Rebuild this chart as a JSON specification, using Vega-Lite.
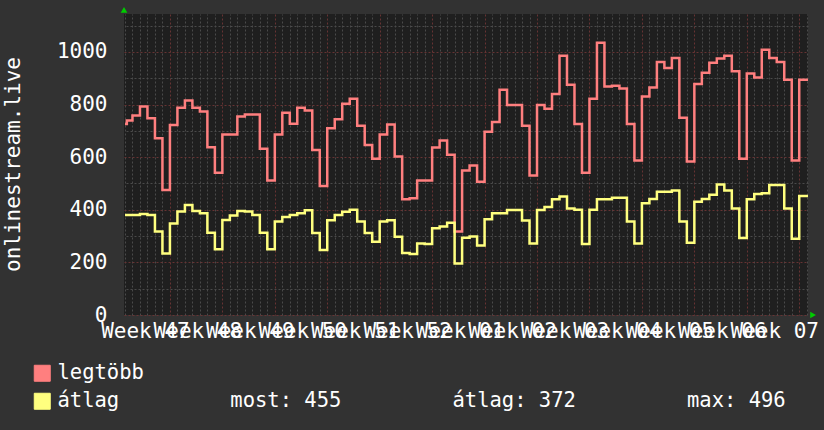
{
  "$schema": "https://vega.github.io/schema/vega-lite/v6.json",
  "width": 684,
  "height": 301,
  "autosize": "none",
  "padding": {"left": 124, "top": 14, "right": 16, "bottom": 115},
  "background": "#323232",
  "config": {
    "view": {"fill": "#1f1f1f", "stroke": null},
    "font": "DejaVu Sans Mono",
    "axis": {"labelFont": "DejaVu Sans Mono", "titleFont": "DejaVu Sans Mono", "labelColor": "#ffffff", "titleColor": "#ffffff", "labelFontSize": 21, "titleFontSize": 21, "titleFontWeight": "normal", "domain": false, "ticks": false, "tickSize": 0, "gridDash": [2, 2], "gridWidth": 1, "labelOverlap": false, "labelFlush": false, "labelBound": false},
    "legend": {"labelFont": "DejaVu Sans Mono", "labelFontSize": 20.5, "labelColor": "#ffffff"}
  },
  "data": {"values": [
    {"d":0,"s":"legtöbb","v":726},{"d":0.25,"s":"legtöbb","v":739},{"d":1,"s":"legtöbb","v":758},{"d":2,"s":"legtöbb","v":792},{"d":3,"s":"legtöbb","v":748},{"d":4,"s":"legtöbb","v":672},{"d":5,"s":"legtöbb","v":475},{"d":6,"s":"legtöbb","v":722},{"d":7,"s":"legtöbb","v":788},{"d":8,"s":"legtöbb","v":815},{"d":9,"s":"legtöbb","v":788},{"d":10,"s":"legtöbb","v":773},{"d":11,"s":"legtöbb","v":638},{"d":12,"s":"legtöbb","v":541},{"d":13,"s":"legtöbb","v":686},{"d":14,"s":"legtöbb","v":686},{"d":15,"s":"legtöbb","v":754},{"d":16,"s":"legtöbb","v":762},{"d":17,"s":"legtöbb","v":762},{"d":18,"s":"legtöbb","v":632},{"d":19,"s":"legtöbb","v":511},{"d":20,"s":"legtöbb","v":686},{"d":21,"s":"legtöbb","v":769},{"d":22,"s":"legtöbb","v":727},{"d":23,"s":"legtöbb","v":788},{"d":24,"s":"legtöbb","v":777},{"d":25,"s":"legtöbb","v":627},{"d":26,"s":"legtöbb","v":490},{"d":27,"s":"legtöbb","v":710},{"d":28,"s":"legtöbb","v":744},{"d":29,"s":"legtöbb","v":803},{"d":30,"s":"legtöbb","v":822},{"d":31,"s":"legtöbb","v":719},{"d":32,"s":"legtöbb","v":646},{"d":33,"s":"legtöbb","v":594},{"d":34,"s":"legtöbb","v":686},{"d":35,"s":"legtöbb","v":724},{"d":36,"s":"legtöbb","v":602},{"d":37,"s":"legtöbb","v":440},{"d":38,"s":"legtöbb","v":444},{"d":39,"s":"legtöbb","v":511},{"d":40,"s":"legtöbb","v":511},{"d":41,"s":"legtöbb","v":637},{"d":42,"s":"legtöbb","v":663},{"d":43,"s":"legtöbb","v":609},{"d":44,"s":"legtöbb","v":317},{"d":45,"s":"legtöbb","v":549},{"d":46,"s":"legtöbb","v":568},{"d":47,"s":"legtöbb","v":506},{"d":48,"s":"legtöbb","v":696},{"d":49,"s":"legtöbb","v":734},{"d":50,"s":"legtöbb","v":856},{"d":51,"s":"legtöbb","v":798},{"d":52,"s":"legtöbb","v":798},{"d":53,"s":"legtöbb","v":719},{"d":54,"s":"legtöbb","v":530},{"d":55,"s":"legtöbb","v":798},{"d":56,"s":"legtöbb","v":784},{"d":57,"s":"legtöbb","v":840},{"d":58,"s":"legtöbb","v":985},{"d":59,"s":"legtöbb","v":875},{"d":60,"s":"legtöbb","v":726},{"d":61,"s":"legtöbb","v":541},{"d":62,"s":"legtöbb","v":822},{"d":63,"s":"legtöbb","v":1035},{"d":64,"s":"legtöbb","v":868},{"d":65,"s":"legtöbb","v":871},{"d":66,"s":"legtöbb","v":861},{"d":67,"s":"legtöbb","v":726},{"d":68,"s":"legtöbb","v":587},{"d":69,"s":"legtöbb","v":830},{"d":70,"s":"legtöbb","v":865},{"d":71,"s":"legtöbb","v":962},{"d":72,"s":"legtöbb","v":939},{"d":73,"s":"legtöbb","v":977},{"d":74,"s":"legtöbb","v":750},{"d":75,"s":"legtöbb","v":583},{"d":76,"s":"legtöbb","v":878},{"d":77,"s":"legtöbb","v":921},{"d":78,"s":"legtöbb","v":959},{"d":79,"s":"legtöbb","v":975},{"d":80,"s":"legtöbb","v":985},{"d":81,"s":"legtöbb","v":926},{"d":82,"s":"legtöbb","v":594},{"d":83,"s":"legtöbb","v":918},{"d":84,"s":"legtöbb","v":903},{"d":85,"s":"legtöbb","v":1008},{"d":86,"s":"legtöbb","v":977},{"d":87,"s":"legtöbb","v":962},{"d":88,"s":"legtöbb","v":894},{"d":89,"s":"legtöbb","v":587},{"d":90,"s":"legtöbb","v":894},{"d":91.2,"s":"legtöbb","v":894},
    {"d":0,"s":"átlag","v":380},{"d":1,"s":"átlag","v":380},{"d":2,"s":"átlag","v":384},{"d":3,"s":"átlag","v":380},{"d":4,"s":"átlag","v":317},{"d":5,"s":"átlag","v":234},{"d":6,"s":"átlag","v":348},{"d":7,"s":"átlag","v":393},{"d":8,"s":"átlag","v":418},{"d":9,"s":"átlag","v":395},{"d":10,"s":"átlag","v":387},{"d":11,"s":"átlag","v":313},{"d":12,"s":"átlag","v":250},{"d":13,"s":"átlag","v":361},{"d":14,"s":"átlag","v":378},{"d":15,"s":"átlag","v":395},{"d":16,"s":"átlag","v":393},{"d":17,"s":"átlag","v":380},{"d":18,"s":"átlag","v":313},{"d":19,"s":"átlag","v":250},{"d":20,"s":"átlag","v":355},{"d":21,"s":"átlag","v":372},{"d":22,"s":"átlag","v":380},{"d":23,"s":"átlag","v":387},{"d":24,"s":"átlag","v":398},{"d":25,"s":"átlag","v":312},{"d":26,"s":"átlag","v":247},{"d":27,"s":"átlag","v":360},{"d":28,"s":"átlag","v":380},{"d":29,"s":"átlag","v":392},{"d":30,"s":"átlag","v":400},{"d":31,"s":"átlag","v":355},{"d":32,"s":"átlag","v":312},{"d":33,"s":"átlag","v":278},{"d":34,"s":"átlag","v":355},{"d":35,"s":"átlag","v":360},{"d":36,"s":"átlag","v":297},{"d":37,"s":"átlag","v":236},{"d":38,"s":"átlag","v":232},{"d":39,"s":"átlag","v":272},{"d":40,"s":"átlag","v":270},{"d":41,"s":"átlag","v":330},{"d":42,"s":"átlag","v":336},{"d":43,"s":"átlag","v":351},{"d":44,"s":"átlag","v":196},{"d":45,"s":"átlag","v":294},{"d":46,"s":"átlag","v":298},{"d":47,"s":"átlag","v":264},{"d":48,"s":"átlag","v":364},{"d":49,"s":"átlag","v":387},{"d":50,"s":"átlag","v":387},{"d":51,"s":"átlag","v":399},{"d":52,"s":"átlag","v":399},{"d":53,"s":"átlag","v":359},{"d":54,"s":"átlag","v":272},{"d":55,"s":"átlag","v":399},{"d":56,"s":"átlag","v":410},{"d":57,"s":"átlag","v":440},{"d":58,"s":"átlag","v":450},{"d":59,"s":"átlag","v":405},{"d":60,"s":"átlag","v":400},{"d":61,"s":"átlag","v":270},{"d":62,"s":"átlag","v":400},{"d":63,"s":"átlag","v":440},{"d":64,"s":"átlag","v":440},{"d":65,"s":"átlag","v":446},{"d":66,"s":"átlag","v":446},{"d":67,"s":"átlag","v":355},{"d":68,"s":"átlag","v":272},{"d":69,"s":"átlag","v":425},{"d":70,"s":"átlag","v":441},{"d":71,"s":"átlag","v":468},{"d":72,"s":"átlag","v":468},{"d":73,"s":"átlag","v":473},{"d":74,"s":"átlag","v":355},{"d":75,"s":"átlag","v":275},{"d":76,"s":"átlag","v":430},{"d":77,"s":"átlag","v":441},{"d":78,"s":"átlag","v":457},{"d":79,"s":"átlag","v":496},{"d":80,"s":"átlag","v":473},{"d":81,"s":"átlag","v":405},{"d":82,"s":"átlag","v":293},{"d":83,"s":"átlag","v":440},{"d":84,"s":"átlag","v":460},{"d":85,"s":"átlag","v":463},{"d":86,"s":"átlag","v":494},{"d":87,"s":"átlag","v":494},{"d":88,"s":"átlag","v":405},{"d":89,"s":"átlag","v":290},{"d":90,"s":"átlag","v":452},{"d":91.2,"s":"átlag","v":452}
  ]},
  "layer": [
    {
      "transform": [{"filter": "datum.s == 'legtöbb'"}],
      "mark": {"type": "line", "interpolate": "step-after", "strokeWidth": 2.5, "clip": true},
      "encoding": {
        "x": {"field": "d", "type": "quantitative", "scale": {"domain": [-0.13, 91.17], "nice": false, "zero": false},
          "axis": {"orient": "bottom", "title": null, "values": [6,13,20,27,34,41,48,55,62,69,76,83,90],
            "labelExpr": "'Week ' + (((datum.value - 6) / 7 + 46) % 52 + 1 < 10 ? '0' : '') + (((datum.value - 6) / 7 + 46) % 52 + 1)",
            "labelOffset": -25, "labelPadding": 5, "grid": true, "gridColor": "#663333"}},
        "y": {"field": "v", "type": "quantitative", "scale": {"domain": [0, 1144], "nice": false},
          "axis": {"orient": "left", "values": [0,200,400,600,800,1000], "format": "d", "grid": true, "gridColor": "#663333", "labelPadding": 17,
            "title": "onlinestream.live", "titleAngle": -90, "titleBaseline": "alphabetic", "titleX": -105, "titleY": 150, "titleAlign": "center"}},
        "color": {"field": "s", "type": "nominal",
          "scale": {"domain": ["legtöbb", "átlag"], "range": ["#ff7f7f", "#ffff7f"]},
          "legend": {"orient": "none", "legendX": -92, "legendY": 349, "title": null, "padding": 0,
            "symbolType": "square", "symbolSize": 256, "labelOffset": 5, "rowPadding": 7, "labelLimit": 1000,
            "labelExpr": "datum.label == 'átlag' ? 'átlag\u00a0\u00a0\u00a0\u00a0\u00a0\u00a0\u00a0\u00a0\u00a0most:\u00a0455\u00a0\u00a0\u00a0\u00a0\u00a0\u00a0\u00a0\u00a0\u00a0átlag:\u00a0372\u00a0\u00a0\u00a0\u00a0\u00a0\u00a0\u00a0\u00a0\u00a0max:\u00a0496' : datum.label",
            "encode": {"symbols": {"update": {"fill": {"scale": "color", "field": "value"}, "stroke": {"value": "#000000"}, "strokeWidth": {"value": 1}, "opacity": {"value": 1}, "fillOpacity": {"value": 1}}}}}}
      }
    },
    {
      "transform": [{"filter": "datum.s == 'átlag'"}],
      "mark": {"type": "line", "interpolate": "step-after", "strokeWidth": 2.5, "clip": true},
      "encoding": {
        "x": {"field": "d", "type": "quantitative",
          "axis": {"orient": "top", "title": null, "labels": false, "grid": true, "gridColor": "#4a4a4a",
            "values": [0,1,2,3,4,5,7,8,9,10,11,12,14,15,16,17,18,19,21,22,23,24,25,26,28,29,30,31,32,33,35,36,37,38,39,40,42,43,44,45,46,47,49,50,51,52,53,54,56,57,58,59,60,61,63,64,65,66,67,68,70,71,72,73,74,75,77,78,79,80,81,82,84,85,86,87,88,89,91]}},
        "y": {"field": "v", "type": "quantitative",
          "axis": {"orient": "right", "title": null, "labels": false, "grid": true, "gridColor": "#4a4a4a", "values": [100,300,500,700,900,1100]}},
        "color": {"field": "s", "type": "nominal"}
      }
    },
    {
      "data": {"values": [{}]},
      "mark": {"type": "point", "shape": "triangle-up", "filled": true, "color": "#00cc00", "size": 45, "opacity": 1, "clip": false},
      "encoding": {"x": {"datum": -0.13, "type": "quantitative", "axis": null}, "y": {"datum": 1160, "type": "quantitative", "axis": null}}
    },
    {
      "data": {"values": [{}]},
      "mark": {"type": "point", "shape": "triangle-right", "filled": true, "color": "#00cc00", "size": 45, "opacity": 1, "clip": false},
      "encoding": {"x": {"datum": 91.85, "type": "quantitative", "axis": null}, "y": {"datum": 0, "type": "quantitative", "axis": null}}
    }
  ],
  "resolve": {"axis": {"x": "independent", "y": "independent"}}
}
